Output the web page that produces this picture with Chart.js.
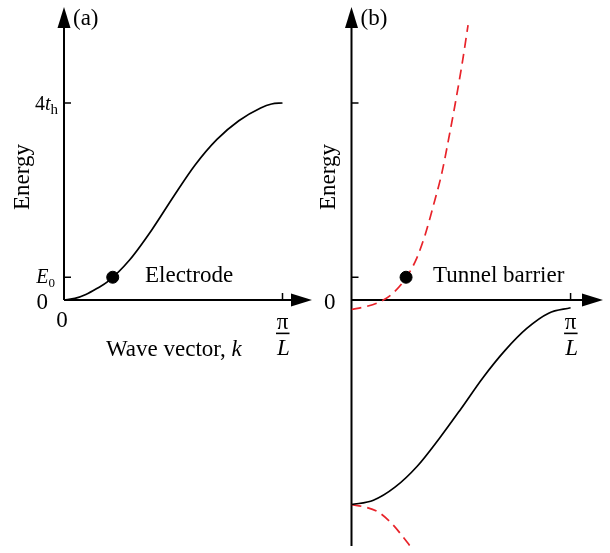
<!DOCTYPE html>
<html>
<head>
<meta charset="utf-8">
<script src="https://cdn.jsdelivr.net/npm/chart.js@4.4.1/dist/chart.umd.min.js"></script>
<style>
  html, body { margin: 0; padding: 0; background: #fff; }
  #wrap { position: relative; width: 610px; height: 553px; }
  canvas { position: absolute; left: 0; top: 0; }
</style>
</head>
<body>
<div id="wrap">
  <canvas id="panelA" width="610" height="553"></canvas>
  <canvas id="panelB" width="610" height="553"></canvas>
</div>
<script>
// k in units of pi/L, energy in units of t_h
const electrodeK = [0, 0.05, 0.1, 0.15, 0.2, 0.3, 0.4, 0.5, 0.6, 0.7, 0.8, 0.9, 0.95, 1.0];
const electrodeE = [0, 0.03, 0.11, 0.23, 0.37, 0.81, 1.41, 2.09, 2.74, 3.26, 3.64, 3.90, 3.98, 4.0];

const barrierK = [0, 0.1, 0.2, 0.3, 0.4, 0.5, 0.6, 0.7, 0.8, 0.9, 1.0];
const barrierE = [-4.16, -4.07, -3.80, -3.38, -2.82, -2.21, -1.58, -1.03, -0.58, -0.27, -0.16];

const upperDashK = [0, 0.062, 0.123, 0.184, 0.249, 0.298, 0.336, 0.374, 0.413, 0.443, 0.474, 0.505, 0.532];
const upperDashE = [-0.195, -0.141, -0.054, 0.115, 0.448, 0.85, 1.32, 1.92, 2.59, 3.26, 4.0, 4.8, 5.58];

const lowerDashK = [0, 0.062, 0.122, 0.183, 0.229, 0.267];
const lowerDashE = [-4.16, -4.21, -4.31, -4.54, -4.78, -5.0];

const E0 = 0.46;
const electrodeDot = { k: 0.223, e: E0 };
const barrierDot = { k: 0.249, e: E0 };
const energyTicks = [E0, 4];
const kEnd = 1;

const SERIF = "'Liberation Serif', 'Times New Roman', serif";
const RED = "#e8232a";

const toPts = (ks, es) => ks.map((k, i) => ({ x: k, y: es[i] }));

function arrow(ctx, x, y, dir) {
  const len = 21, half = 6.5;
  ctx.beginPath();
  if (dir === "up") {
    ctx.moveTo(x, y);
    ctx.lineTo(x - half, y + len);
    ctx.lineTo(x + half, y + len);
  } else {
    ctx.moveTo(x, y);
    ctx.lineTo(x - len, y - half);
    ctx.lineTo(x - len, y + half);
  }
  ctx.closePath();
  ctx.fill();
}

// text with an optional subscript, right aligned at x
function subLabel(ctx, parts, xRight, baseline) {
  let total = 0;
  parts.forEach((p) => { ctx.font = p.font; total += ctx.measureText(p.t).width; });
  let x = xRight - total;
  ctx.textAlign = "left";
  ctx.textBaseline = "alphabetic";
  parts.forEach((p) => {
    ctx.font = p.font;
    ctx.fillText(p.t, x, baseline + (p.dy || 0));
    x += ctx.measureText(p.t).width;
  });
}

function piOverL(ctx, x, y0) {
  ctx.textAlign = "center";
  ctx.textBaseline = "alphabetic";
  ctx.font = "23px " + SERIF;
  ctx.fillText("\u03c0", x, y0 + 29);
  ctx.lineWidth = 1.6;
  ctx.beginPath();
  ctx.moveTo(x - 6.5, y0 + 33.5);
  ctx.lineTo(x + 7, y0 + 33.5);
  ctx.stroke();
  ctx.font = "italic 23px " + SERIF;
  ctx.fillText("L", x + 1, y0 + 55);
}

const axesPlugin = {
  id: "axesPlugin",
  beforeDatasetsDraw(chart, args, opts) {
    const { ctx, chartArea, scales } = chart;
    const x0 = scales.x.getPixelForValue(0);
    const y0 = scales.y.getPixelForValue(0);
    const yLow = scales.y.getPixelForValue(opts.yFrom);
    ctx.save();
    ctx.strokeStyle = "#000";
    ctx.fillStyle = "#000";
    ctx.lineWidth = 2;
    ctx.beginPath();
    ctx.moveTo(x0, yLow);
    ctx.lineTo(x0, chartArea.top + 10);
    ctx.moveTo(x0, y0);
    ctx.lineTo(chartArea.right - 10, y0);
    ctx.stroke();
    arrow(ctx, x0, chartArea.top, "up");
    arrow(ctx, chartArea.right, y0, "right");
    ctx.lineWidth = 1.5;
    ctx.beginPath();
    energyTicks.forEach((v) => {
      const y = scales.y.getPixelForValue(v);
      ctx.moveTo(x0, y);
      ctx.lineTo(x0 + 7, y);
    });
    const xe = scales.x.getPixelForValue(kEnd);
    ctx.moveTo(xe, y0);
    ctx.lineTo(xe, y0 - 7);
    ctx.stroke();
    ctx.restore();
  },
  afterDraw(chart, args, opts) {
    const { ctx, scales } = chart;
    const x0 = scales.x.getPixelForValue(0);
    const y0 = scales.y.getPixelForValue(0);
    const xe = scales.x.getPixelForValue(kEnd);
    ctx.save();
    ctx.fillStyle = "#000";
    ctx.strokeStyle = "#000";

    // panel letter
    ctx.font = "23px " + SERIF;
    ctx.textAlign = "left";
    ctx.textBaseline = "alphabetic";
    ctx.fillText(opts.letter, x0 + 9, 25);

    // zero on energy axis
    ctx.textAlign = "right";
    ctx.fillText("0", x0 - 16, y0 + 9);

    // Energy title
    ctx.save();
    ctx.translate(x0 - opts.titleGap, 177);
    ctx.rotate(-Math.PI / 2);
    ctx.textAlign = "center";
    ctx.textBaseline = "middle";
    ctx.font = "23px " + SERIF;
    ctx.fillText("Energy", 0, 0);
    ctx.restore();

    piOverL(ctx, xe, y0);

    if (opts.tickLabels) {
      const yTop = scales.y.getPixelForValue(4);
      subLabel(ctx, [
        { t: "4", font: "20px " + SERIF },
        { t: "t", font: "italic 20px " + SERIF },
        { t: "h", font: "15px " + SERIF, dy: 4 },
      ], x0 - 6, yTop + 7);
      const yE = scales.y.getPixelForValue(E0);
      subLabel(ctx, [
        { t: "E", font: "italic 20px " + SERIF },
        { t: "0", font: "13px " + SERIF, dy: 4 },
      ], x0 - 9, yE + 6);

      ctx.font = "23px " + SERIF;
      ctx.textAlign = "center";
      ctx.fillText("0", x0 - 2, y0 + 27);

      ctx.textAlign = "left";
      ctx.font = "23px " + SERIF;
      const w1 = ctx.measureText("Wave vector, ").width;
      ctx.fillText("Wave vector, ", 106, y0 + 56);
      ctx.font = "italic 23px " + SERIF;
      ctx.fillText("k", 106 + w1, y0 + 56);
    }

    ctx.font = "23px " + SERIF;
    ctx.textAlign = "left";
    ctx.fillText(opts.caption, opts.captionX, y0 - 18);
    ctx.restore();
  },
};

function makeChart(id, datasets, pad, xMax, opts) {
  return new Chart(document.getElementById(id), {
    type: "scatter",
    data: { datasets },
    options: {
      responsive: false,
      animation: false,
      events: [],
      layout: { padding: pad },
      scales: {
        x: { type: "linear", min: 0, max: xMax, display: false },
        y: { type: "linear", min: -5, max: 5.95, display: false },
      },
      plugins: {
        legend: { display: false },
        tooltip: { enabled: false },
        axesPlugin: opts,
      },
    },
    plugins: [axesPlugin],
  });
}

const lineStyle = {
  showLine: true,
  pointRadius: 0,
  borderWidth: 1.7,
  fill: false,
  cubicInterpolationMode: "monotone",
};

const dotStyle = {
  pointRadius: 6,
  pointBackgroundColor: "#000",
  pointBorderColor: "#000",
  showLine: false,
};

makeChart("panelA", [
  { ...dotStyle, data: [{ x: electrodeDot.k, y: electrodeDot.e }] },
  { ...lineStyle, borderColor: "#000", data: toPts(electrodeK, electrodeE) },
], { left: 64, right: 298, top: 3, bottom: 5 }, 1.135,
  { yFrom: 0, letter: "(a)", titleGap: 41, tickLabels: true, caption: "Electrode", captionX: 145 });

makeChart("panelB", [
  { ...dotStyle, data: [{ x: barrierDot.k, y: barrierDot.e }] },
  { ...lineStyle, borderColor: "#000", data: toPts(barrierK, barrierE) },
  { ...lineStyle, borderColor: RED, borderDash: [10, 6], data: toPts(upperDashK, upperDashE) },
  { ...lineStyle, borderColor: RED, borderDash: [10, 6], data: toPts(lowerDashK, lowerDashE) },
], { left: 351.5, right: 7, top: 3, bottom: 5 }, 1.148,
  { yFrom: -5, letter: "(b)", titleGap: 23, tickLabels: false, caption: "Tunnel barrier", captionX: 433 });
</script>
</body>
</html>
